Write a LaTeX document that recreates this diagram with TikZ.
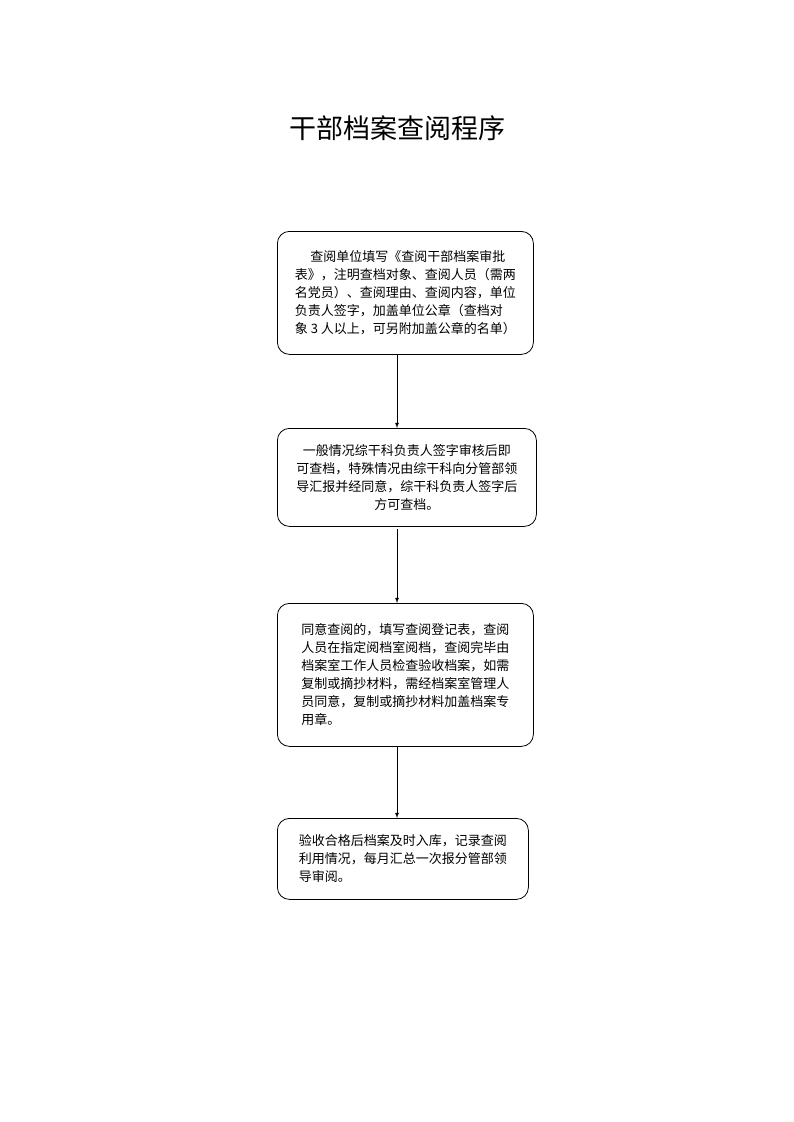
\documentclass[tikz,border=0pt]{standalone}
\usepackage{fontspec}
\setmainfont{Noto Sans CJK SC}
\newfontfamily\cjk{Noto Sans CJK SC}
\begin{document}
\begin{tikzpicture}[x=1pt,y=1pt,
  box/.style={draw,rounded corners=12pt,line width=0.8pt,inner sep=0pt,anchor=north west,font=\fontsize{13}{18}\selectfont},
  arr/.style={-latex,line width=0.8pt}]
\useasboundingbox (0,0) rectangle (793,-1122);
\node (t) at (397,-128) {\fontsize{27}{30}\selectfont 干部档案查阅程序};
\node[box,minimum width=256pt,minimum height=123pt] (b1) at (277,-231) {};
\node[align=left,font=\fontsize{13}{18}\selectfont] at (b1.center) {\hspace{1.2em}查阅单位填写《查阅干部档案审批\\表》，注明查档对象、查阅人员（需两\\名党员）、查阅理由、查阅内容，单位\\负责人签字，加盖单位公章（查档对\\象 3 人以上，可另附加盖公章的名单）};
\node[box,minimum width=259pt,minimum height=98pt] (b2) at (277,-428) {};
\node[align=center,font=\fontsize{13}{18}\selectfont] at (b2.center) {一般情况综干科负责人签字审核后即\\可查档，特殊情况由综干科向分管部领\\导汇报并经同意，综干科负责人签字后\\方可查档。};
\node[box,minimum width=256pt,minimum height=143pt] (b3) at (277,-603) {};
\node[align=left,font=\fontsize{13}{18}\selectfont] at (b3.center) {同意查阅的，填写查阅登记表，查阅\\人员在指定阅档室阅档，查阅完毕由\\档案室工作人员检查验收档案，如需\\复制或摘抄材料，需经档案室管理人\\员同意，复制或摘抄材料加盖档案专\\用章。};
\node[box,minimum width=251pt,minimum height=81pt] (b4) at (277,-818) {};
\node[align=left,font=\fontsize{13}{18}\selectfont] at (b4.center) {验收合格后档案及时入库，记录查阅\\利用情况，每月汇总一次报分管部领\\导审阅。\hspace{8em}};
\draw[arr] (397,-354) -- (397,-428);
\draw[arr] (397,-529) -- (397,-603);
\draw[arr] (397,-746) -- (397,-818);
\end{tikzpicture}
\end{document}
